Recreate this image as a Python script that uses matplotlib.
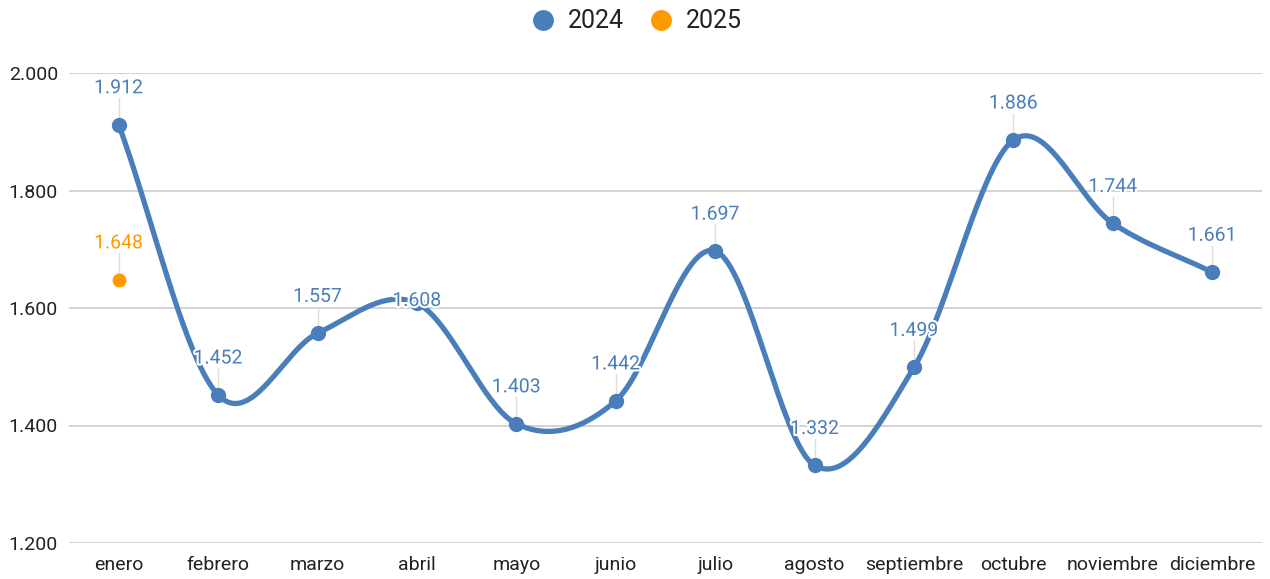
import matplotlib
matplotlib.use('Agg')
import matplotlib.pyplot as plt
import matplotlib.patheffects as pe
from matplotlib.lines import Line2D
import numpy as np

plt.rcParams['font.family'] = ['Roboto', 'DejaVu Sans']

# data
months = ['enero', 'febrero', 'marzo', 'abril', 'mayo', 'junio', 'julio',
          'agosto', 'septiembre', 'octubre', 'noviembre', 'diciembre']
values_2024 = [1912, 1452, 1557, 1608, 1403, 1442, 1697, 1332, 1499, 1886, 1744, 1661]
values_2025 = [1648]
yticks = [1200, 1400, 1600, 1800, 2000]

blue = '#4A7EBB'
orange = '#FF9900'


def smooth(x, y, n=40):
    # catmull-rom curve through the points
    x = np.asarray(x, float)
    y = np.asarray(y, float)
    px = np.concatenate([[2 * x[0] - x[1]], x, [2 * x[-1] - x[-2]]])
    py = np.concatenate([[2 * y[0] - y[1]], y, [2 * y[-1] - y[-2]]])
    xs, ys = [], []
    t = np.linspace(0, 1, n)
    for i in range(1, len(px) - 2):
        for arr, out in ((px, xs), (py, ys)):
            p0, p1, p2, p3 = arr[i - 1:i + 3]
            out.extend(0.5 * (2 * p1 + (-p0 + p2) * t
                              + (2 * p0 - 5 * p1 + 4 * p2 - p3) * t ** 2
                              + (-p0 + 3 * p1 - 3 * p2 + p3) * t ** 3))
    return np.array(xs), np.array(ys)


def fmt(v):
    return '{:,}'.format(v).replace(',', '.')


fig = plt.figure(figsize=(12.7, 5.79), dpi=100)
ax = fig.add_axes([69 / 1270, 36 / 579, 1193 / 1270, 470 / 579])

x = np.arange(len(months))
sx, sy = smooth(x, values_2024)
ax.plot(sx, sy, color=blue, lw=3.8, solid_capstyle='round', zorder=3)
ax.plot(x, values_2024, 'o', color=blue, ms=10, zorder=4)
ax.plot([0], values_2025, 'o', color=orange, ms=9, zorder=4)

halo = [pe.withStroke(linewidth=3, foreground='white')]
for xi, v in zip(x, values_2024):
    if months[xi] == 'abril':
        # this label sits on top of its point in the original
        ax.text(xi, v + 4, fmt(v), color=blue, fontsize=14, ha='center',
                va='center', zorder=5, path_effects=halo)
        continue
    ax.plot([xi, xi], [v, v + 45], color='#dddddd', lw=1, zorder=2)
    ax.text(xi, v + 62, fmt(v), color=blue, fontsize=14, ha='center',
            va='center', zorder=5, path_effects=halo)
for v in values_2025:
    ax.plot([0, 0], [v, v + 45], color='#dddddd', lw=1, zorder=2)
    ax.text(0, v + 62, fmt(v), color=orange, fontsize=14, ha='center',
            va='center', zorder=5, path_effects=halo)

ax.set_xlim(-0.5, len(months) - 0.5)
ax.set_ylim(1200, 2000)
ax.set_yticks(yticks)
ax.set_yticklabels([fmt(t) for t in yticks])
ax.set_xticks(x)
ax.set_xticklabels(months)
ax.tick_params(length=0, labelsize=14, colors='#222222')
ax.tick_params(axis='y', pad=8)
ax.tick_params(axis='x', pad=9)
ax.grid(axis='y', color='#cccccc', lw=1.2)
ax.set_axisbelow(True)
for s in ax.spines.values():
    s.set_visible(False)

handles = [Line2D([], [], ls='', marker='o', ms=14, color=blue),
           Line2D([], [], ls='', marker='o', ms=14, color=orange)]
fig.legend(handles, ['2024', '2025'], loc='center', bbox_to_anchor=(0.5, 0.963),
           ncol=2, frameon=False, fontsize=18, handlelength=1.2,
           handletextpad=0.4, columnspacing=0.9, labelcolor='#222222')

fig.savefig('out.png', dpi=100)
